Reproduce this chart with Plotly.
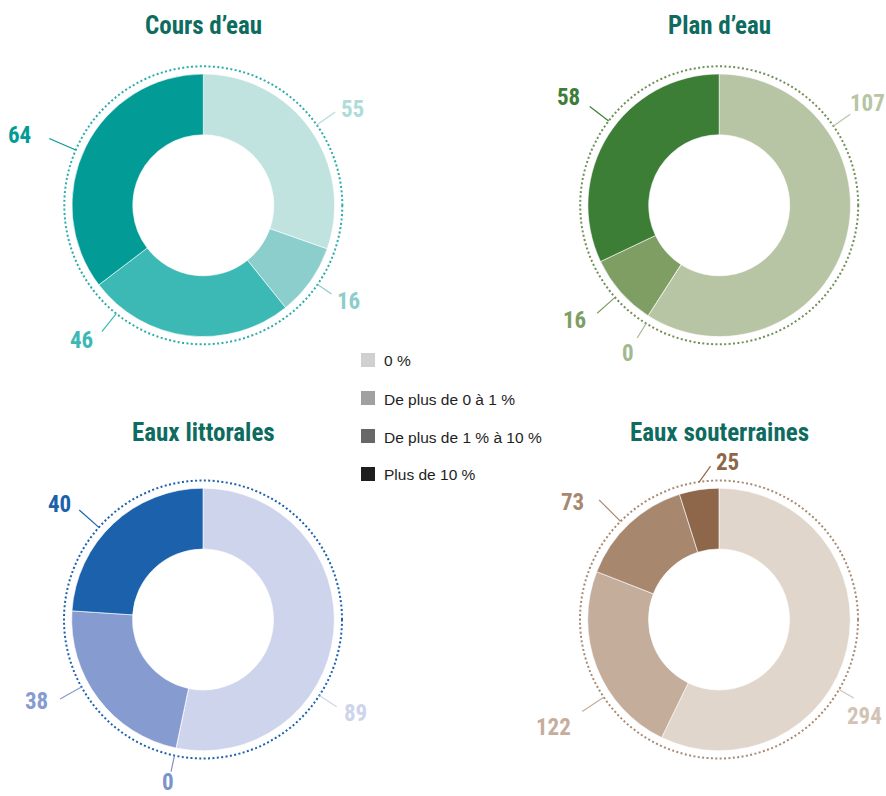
import math
import plotly.graph_objects as go

W, H = 886, 796

# ---------------- data ----------------
categories = ["0 %", "De plus de 0 à 1 %", "De plus de 1 % à 10 %", "Plus de 10 %"]

titles = ["Cours d’eau", "Plan d’eau", "Eaux littorales", "Eaux souterraines"]
cours_deau = [55, 16, 46, 64]
plan_deau = [107, 0, 16, 58]
eaux_littorales = [89, 0, 38, 40]
eaux_souterraines = [294, 122, 73, 25]
series = [cours_deau, plan_deau, eaux_littorales, eaux_souterraines]

# ---------------- styles ----------------
slice_colors = [
    ["#c0e3e0", "#8bcecb", "#3cb8b5", "#029b96"],
    ["#b7c5a5", "#a0b68b", "#7e9e63", "#3d7e36"],
    ["#cdd4ec", "#6f8cc9", "#869bcf", "#1b61ac"],
    ["#e0d6cc", "#c5ad9c", "#a8876f", "#8e674b"],
]
label_colors = [
    ["#aedcd9", "#8bcecb", "#3cb8b5", "#029b96"],
    ["#b7c5a5", "#a3b88f", "#7e9e63", "#3d7e36"],
    ["#cdd4ec", "#7a93cc", "#869bcf", "#1b61ac"],
    ["#d2c3b5", "#c5ad9c", "#a8876f", "#8e674b"],
]
ring_colors = ["#2aadaa", "#6f8f57", "#1b61ac", "#a88a72"]
legend_colors = ["#d0d0d0", "#a0a0a0", "#686868", "#1e1e1e"]
title_color = "#0e6b60"

# ---------------- layout geometry (pixels) ----------------
centers = [(203.3, 205.3), (719.2, 205.3), (203.0, 619.5), (719.0, 619.5)]
title_y = [26, 26, 432, 432]
R_PIE = 131.3
R_RING = 139
HOLE = 0.537

# leader-line / label placement tweaks relative to each slice's mid angle
line_nudge = [[0, -0.6, 31.8, -2.9], [-51.2, -1.1, -0.2, 5.0],
              [27.2, 0, 8.1, -5.4], [17.3, -12.6, -2.0, 0.6]]
line_twist = [[0, 0, 0, 0], [0, 0, 0, 0], [0, 0, 0, 0], [0, 0, 0, 5.0]]
line_r = [[161.6, 156, 162, 168], [159.6, 156, 162.9, 162.8],
          [159.6, 155.5, 163.6, 165.2], [156, 164.9, 169.4, 153.7]]
label_nudge = [[2.3, -2.2, 35.2, -5.3], [-51, -1.1, 2.9, 3.4],
               [25.5, 0.5, 11.2, -7.9], [20.5, -11.6, -7.9, 12.0]]
label_r = [[178.5, 173.5, 181.7, 196.7], [180.2, 173.6, 184, 186.2],
           [178.5, 165.5, 185.3, 184.9], [174.8, 196.9, 188, 158]]

BOLD_FONT = "Liberation Sans Narrow, Roboto Condensed, Arial Narrow, sans-serif"
REG_FONT = "Liberation Sans, Arial, sans-serif"


def px(x):
    return x / W


def py(y):
    return 1 - y / H


def polar(c, ang, r):
    a = math.radians(ang)
    return c[0] + r * math.sin(a), c[1] - r * math.cos(a)


fig = go.Figure()
shapes = []
annotations = []

for k, vals in enumerate(series):
    cx, cy = centers[k]
    fig.add_trace(go.Pie(
        labels=categories,
        values=vals,
        sort=False,
        direction="clockwise",
        rotation=0,
        hole=HOLE,
        textinfo="none",
        hoverinfo="label+value",
        showlegend=False,
        marker=dict(colors=slice_colors[k], line=dict(color="white", width=0.6)),
        domain=dict(x=[px(cx - R_PIE), px(cx + R_PIE)],
                    y=[py(cy + R_PIE), py(cy - R_PIE)]),
    ))
    # dotted outer ring
    shapes.append(dict(
        type="circle", xref="paper", yref="paper",
        x0=px(cx - R_RING), x1=px(cx + R_RING),
        y0=py(cy + R_RING), y1=py(cy - R_RING),
        line=dict(color=ring_colors[k], width=2, dash="2px,2.4px"),
    ))
    # title
    annotations.append(dict(
        x=px(cx), y=py(title_y[k]), xref="paper", yref="paper",
        text=titles[k], showarrow=False, xanchor="center", yanchor="middle",
        font=dict(family=BOLD_FONT, size=25, color=title_color, weight="bold"),
    ))
    # value labels with leader lines
    total = sum(vals)
    cum = 0
    for i, v in enumerate(vals):
        mid = (cum + v / 2) / total * 360
        cum += v
        a_line = mid + line_nudge[k][i]
        x0, y0 = polar((cx, cy), a_line, R_RING)
        x1, y1 = polar((cx, cy), a_line + line_twist[k][i], line_r[k][i])
        shapes.append(dict(
            type="line", xref="paper", yref="paper",
            x0=px(x0), y0=py(y0), x1=px(x1), y1=py(y1),
            line=dict(color=label_colors[k][i], width=1.2),
        ))
        lx, ly = polar((cx, cy), mid + label_nudge[k][i], label_r[k][i])
        annotations.append(dict(
            x=px(lx), y=py(ly + 1), xref="paper", yref="paper",
            text=str(v), showarrow=False, xanchor="center", yanchor="middle",
            font=dict(family=BOLD_FONT, size=23, color=label_colors[k][i], weight="bold"),
        ))

# legend (drawn manually in the middle)
leg_x = 361
leg_y = [360, 398, 436, 474]
for i, cat in enumerate(categories):
    shapes.append(dict(
        type="rect", xref="paper", yref="paper",
        x0=px(leg_x), x1=px(leg_x + 14), y0=py(leg_y[i] + 7), y1=py(leg_y[i] - 7),
        fillcolor=legend_colors[i], line=dict(width=0),
    ))
    annotations.append(dict(
        x=px(leg_x + 21), y=py(leg_y[i] + 1), xref="paper", yref="paper",
        text=cat, showarrow=False, xanchor="left", yanchor="middle",
        font=dict(family=REG_FONT, size=15.5, color="#1e1e1e"),
    ))

fig.update_layout(
    width=W, height=H,
    margin=dict(l=0, r=0, t=0, b=0),
    paper_bgcolor="white", plot_bgcolor="white",
    shapes=shapes, annotations=annotations,
    showlegend=False,
)

fig.write_html(
    "out.html",
    config={"displayModeBar": False},
    post_script="document.body.style.margin='0';document.body.style.overflow='hidden';",
)
